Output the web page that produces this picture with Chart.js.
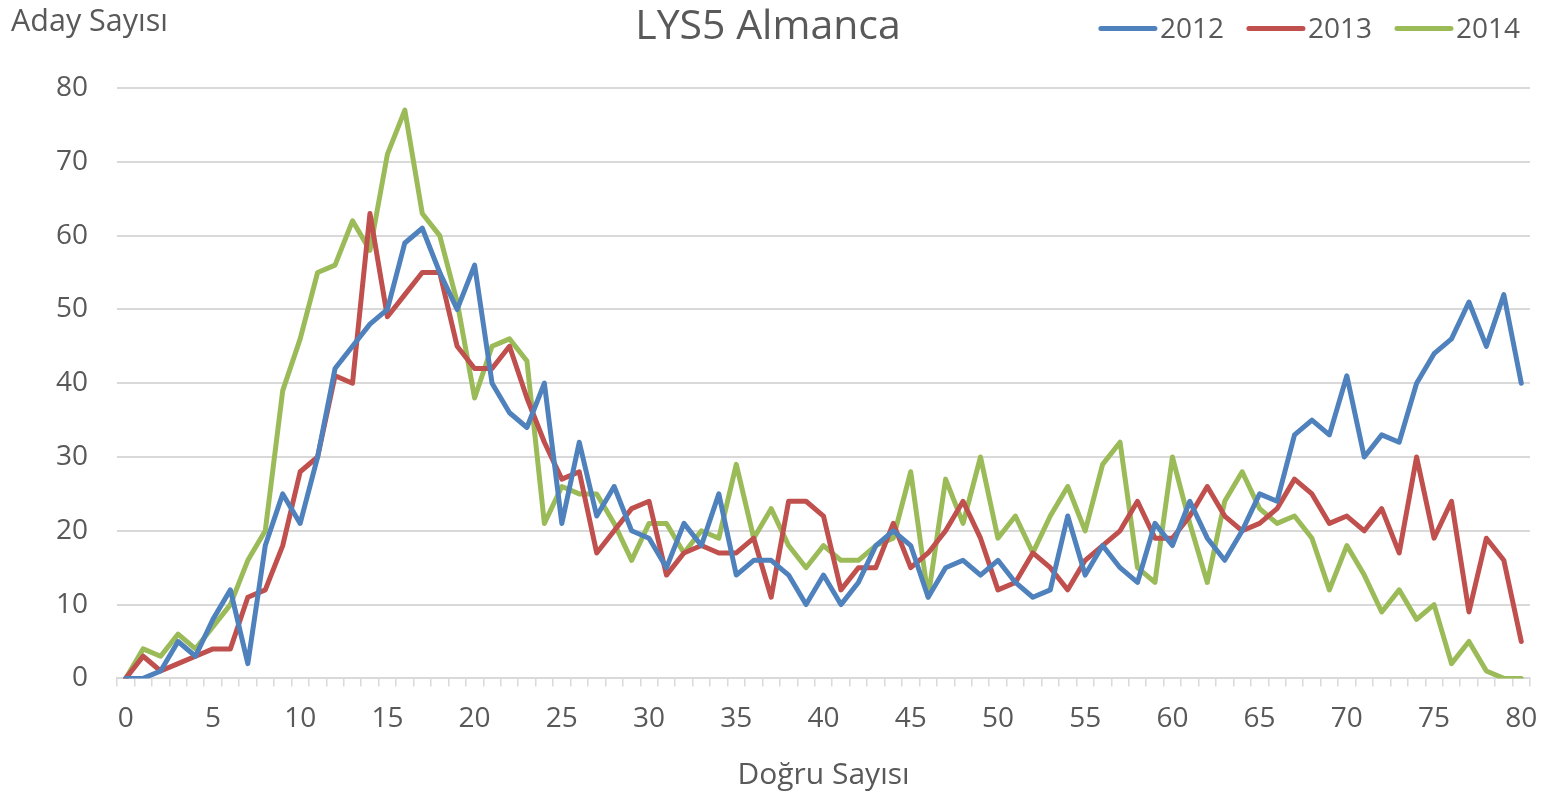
<!DOCTYPE html>
<html>
<head>
<meta charset="utf-8">
<script src="https://cdn.jsdelivr.net/npm/chart.js@4.4.0/dist/chart.umd.min.js"></script>
<style>
html,body{margin:0;padding:0;background:#ffffff;}
#wrap{width:1555px;height:798px;position:relative;}
</style>
</head>
<body>
<div id="wrap"><canvas id="c" width="1555" height="798"></canvas></div>
<script>
const categories = [0,1,2,3,4,5,6,7,8,9,10,11,12,13,14,15,16,17,18,19,20,21,22,23,24,25,26,27,28,29,30,31,32,33,34,35,36,37,38,39,40,41,42,43,44,45,46,47,48,49,50,51,52,53,54,55,56,57,58,59,60,61,62,63,64,65,66,67,68,69,70,71,72,73,74,75,76,77,78,79,80];
const shownTickLabels = [0,5,10,15,20,25,30,35,40,45,50,55,60,65,70,75,80];
const seriesNames = ['2012','2013','2014'];
const values2012 = [0,0,1,5,3,8,12,2,18,25,21,30,42,45,48,50,59,61,55,50,56,40,36,34,40,21,32,22,26,20,19,15,21,18,25,14,16,16,14,10,14,10,13,18,20,18,11,15,16,14,16,13,11,12,22,14,18,15,13,21,18,24,19,16,20,25,24,33,35,33,41,30,33,32,40,44,46,51,45,52,40];
const values2013 = [0,3,1,2,3,4,4,11,12,18,28,30,41,40,63,49,52,55,55,45,42,42,45,38,32,27,28,17,20,23,24,14,17,18,17,17,19,11,24,24,22,12,15,15,21,15,17,20,24,19,12,13,17,15,12,16,18,20,24,19,19,22,26,22,20,21,23,27,25,21,22,20,23,17,30,19,24,9,19,16,5];
const values2014 = [0,4,3,6,4,7,10,16,20,39,46,55,56,62,58,71,77,63,60,51,38,45,46,43,21,26,25,25,21,16,21,21,17,20,19,29,19,23,18,15,18,16,16,18,19,28,11,27,21,30,19,22,17,22,26,20,29,32,15,13,30,21,13,24,28,23,21,22,19,12,18,14,9,12,8,10,2,5,1,0,0];
const seriesColors = ['#4F81BD','#C0504D','#9BBB59'];
const yMin = 0, yMax = 80, yStep = 10;

const textColor = '#595959';
const fontFamily = '"Open Sans", "Noto Sans", sans-serif';

const textPlugin = {
  id: 'extraTexts',
  afterDraw(chart) {
    const ctx = chart.ctx;
    ctx.save();
    ctx.fillStyle = textColor;
    ctx.textBaseline = 'middle';
    // title
    ctx.font = '41px ' + fontFamily;
    ctx.textAlign = 'center';
    ctx.fillText('LYS5 Almanca', 768, 27);
    // y axis title
    ctx.font = '30.5px ' + fontFamily;
    ctx.textAlign = 'left';
    ctx.fillText('Aday Sayısı', 11, 22);
    // legend
    ctx.font = '28px ' + fontFamily;
    let right = 1520;
    const ds = chart.data.datasets;
    for (let i = ds.length - 1; i >= 0; i--) {
      const label = ds[i].label;
      const w = ctx.measureText(label).width;
      const tx = right - w;
      const lx2 = tx - 5, lx1 = lx2 - 54;
      ctx.fillStyle = textColor;
      ctx.textAlign = 'left';
      ctx.fillText(label, tx, 30);
      ctx.strokeStyle = ds[i].borderColor;
      ctx.lineWidth = 5;
      ctx.lineCap = 'round';
      ctx.beginPath();
      ctx.moveTo(lx1, 28.5);
      ctx.lineTo(lx2, 28.5);
      ctx.stroke();
      right = lx1 - 25;
    }
    ctx.restore();
  }
};

const allValues = [values2012, values2013, values2014];
const datasets = seriesNames.map((name, i) => ({
  label: name,
  data: allValues[i],
  borderColor: seriesColors[i],
  backgroundColor: seriesColors[i],
  borderWidth: 5,
  pointRadius: 0,
  pointHoverRadius: 0,
  tension: 0,
  fill: false,
  borderJoinStyle: 'round',
  borderCapStyle: 'round'
}));

new Chart(document.getElementById('c'), {
  type: 'line',
  data: { labels: categories, datasets: datasets },
  plugins: [textPlugin],
  options: {
    responsive: false,
    animation: false,
    layout: { padding: { left: 0, right: 25, top: 88, bottom: 1 } },
    plugins: {
      legend: { display: false },
      title: { display: false },
      tooltip: { enabled: false }
    },
    scales: {
      x: {
        type: 'category',
        offset: true,
        grid: {
          offset: true,
          drawOnChartArea: false,
          drawTicks: true,
          tickLength: 8,
          color: '#d9d9d9',
          lineWidth: 1.5
        },
        border: { display: true, color: '#d9d9d9', width: 2 },
        ticks: {
          autoSkip: false,
          maxRotation: 0,
          minRotation: 0,
          padding: 16,
          color: textColor,
          font: { family: fontFamily, size: 28 },
          callback: function(value, index) {
            const lab = categories[index];
            return shownTickLabels.includes(lab) ? String(lab) : '';
          }
        },
        title: {
          display: true,
          text: 'Doğru Sayısı',
          color: textColor,
          font: { family: fontFamily, size: 30 },
          padding: { top: 5, bottom: 4 }
        }
      },
      y: {
        min: yMin,
        max: yMax,
        afterFit(scale) { scale.width = 117; },
        grid: {
          drawTicks: false,
          color: '#d9d9d9',
          lineWidth: 2
        },
        border: { display: false },
        ticks: {
          stepSize: yStep,
          padding: 29,
          color: textColor,
          font: { family: fontFamily, size: 28 }
        }
      }
    }
  }
});
</script>
</body>
</html>
